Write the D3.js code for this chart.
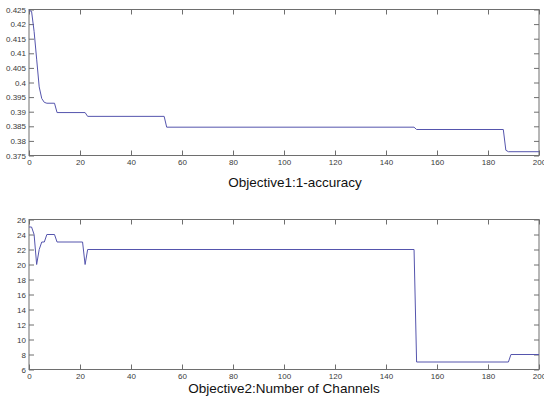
<!doctype html>
<html lang="en">
<head>
	<meta charset="utf-8">
	<title>Objectives</title>
	<script src="https://cdnjs.cloudflare.com/ajax/libs/d3/7.8.5/d3.min.js"></script>
	<style>
		body { margin: 0; background: #fff; }
		svg { display: block; }
		.tick text { font-family: "Liberation Sans", Arial, sans-serif; font-size: 8px; fill: #3a3a3a; }
		.title { font-family: "Liberation Sans", Arial, sans-serif; font-size: 13.5px; fill: #111; }
	</style>
</head>
<body>
<div id="d3view"></div>
<script>
/* model */
var accGen = [0, 1, 2, 3, 4, 5, 6, 7, 10, 11, 22, 23, 53, 54, 151, 152, 186, 187, 188, 200];
var accVal = [0.4246, 0.4244, 0.4175, 0.408, 0.3985, 0.3945, 0.3932, 0.3929, 0.3929, 0.3897, 0.3897, 0.3884, 0.3884, 0.3847, 0.3847, 0.3839, 0.3839, 0.3768, 0.3763, 0.3763];

var chGen = [0, 1, 2, 3, 4, 5, 6, 7, 10, 11, 21, 22, 23, 151, 152, 188, 189, 200];
var chVal = [25, 25, 24, 20, 22, 23, 23, 24, 24, 23, 23, 20, 22, 22, 7, 7, 8, 8];

var xTicks = [0, 20, 40, 60, 80, 100, 120, 140, 160, 180, 200];
var accTicks = [0.375, 0.38, 0.385, 0.39, 0.395, 0.4, 0.405, 0.41, 0.415, 0.42, 0.425];
var accTickLabels = ['0.375', '0.38', '0.385', '0.39', '0.395', '0.4', '0.405', '0.41', '0.415', '0.42', '0.425'];
var chTicks = [6, 8, 10, 12, 14, 16, 18, 20, 22, 24, 26];

var titles = ['Objective1:1-accuracy', 'Objective2:Number of Channels'];

/* view */
var size = { width: 544, height: 399 };
var left = 29, right = 539;
var axisColor = '#6e6e6e';
var lineColor = '#5555ad';

var svg = d3.select('#d3view')
	.append('svg')
	.attr('width', size.width)
	.attr('height', size.height);

var x = d3.scaleLinear().domain([0, 200]).range([left, right]);

function drawPanel(top, bottom, gens, vals, yDomain, yTicks, yLabels, title, titleX, titleY){
	var y = d3.scaleLinear().domain(yDomain).range([bottom, top]);
	var g = svg.append('g');

	// tick marks on all four sides, pointing inward
	g.append('g')
		.attr('transform', 'translate(0,' + bottom + ')')
		.call(d3.axisBottom(x).tickValues(xTicks).tickSizeInner(-5).tickSizeOuter(0).tickPadding(4));
	g.append('g')
		.attr('transform', 'translate(0,' + top + ')')
		.call(d3.axisTop(x).tickValues(xTicks).tickSizeInner(-5).tickSizeOuter(0).tickFormat(''));
	g.append('g')
		.attr('transform', 'translate(' + left + ',0)')
		.call(d3.axisLeft(y).tickValues(yTicks).tickSizeInner(-5).tickSizeOuter(0).tickPadding(3)
			.tickFormat(function(d, i){ return yLabels ? yLabels[i] : d; }));
	g.append('g')
		.attr('transform', 'translate(' + right + ',0)')
		.call(d3.axisRight(y).tickValues(yTicks).tickSizeInner(-5).tickSizeOuter(0).tickFormat(''));

	g.selectAll('.domain').remove();
	g.selectAll('.tick line').attr('stroke', axisColor);

	g.append('rect')
		.attr('x', left)
		.attr('y', top)
		.attr('width', right - left)
		.attr('height', bottom - top)
		.attr('fill', 'none')
		.attr('stroke', axisColor)
		.attr('stroke-width', 1);

	var line = d3.line()
		.x(function(d){ return x(d); })
		.y(function(d, i){ return y(vals[i]); });

	g.append('path')
		.datum(gens)
		.attr('d', line)
		.attr('fill', 'none')
		.attr('stroke', lineColor)
		.attr('stroke-width', 1);

	svg.append('text')
		.attr('class', 'title')
		.attr('x', titleX)
		.attr('y', titleY)
		.attr('text-anchor', 'middle')
		.text(title);
}

drawPanel(9.5, 155.5, accGen, accVal, [0.375, 0.425], accTicks, accTickLabels, titles[0], 295, 187);
drawPanel(219.5, 369.5, chGen, chVal, [6, 26], chTicks, null, titles[1], 284, 393);
</script>
</body>
</html>
